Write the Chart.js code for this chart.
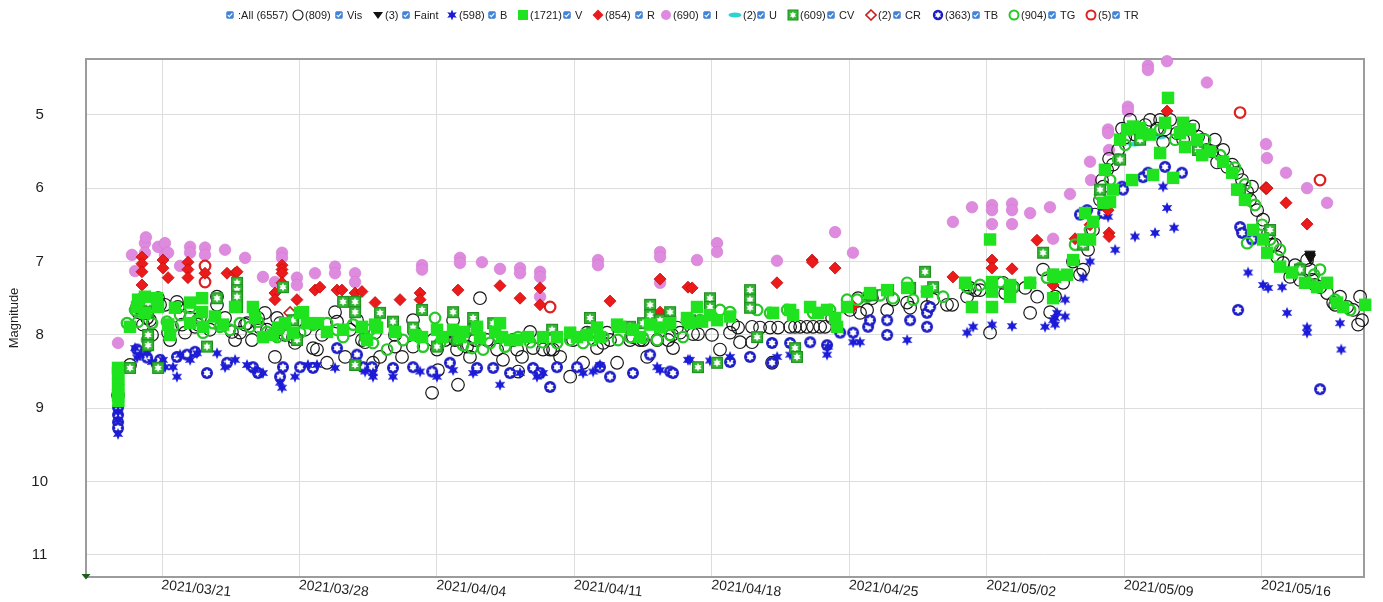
<!DOCTYPE html>
<html>
<head>
<meta charset="utf-8">
<script src="https://cdn.jsdelivr.net/npm/chart.js@4.4.1/dist/chart.umd.min.js"></script>
<style>
  html, body { margin: 0; padding: 0; background: #fff; }
  #wrap { position: relative; width: 1383px; height: 602px; overflow: hidden;
          font-family: "Liberation Sans", Arial, Helvetica, sans-serif; }
  #chart { position: absolute; left: 0; top: 0; }
  #legend { position: absolute; left: 0; top: 8px; width: 1383px; height: 14px;
            font-size: 11px; color: #222; }
  .li { position: absolute; top: 0; height: 14px; display: flex; align-items: center; white-space: nowrap; }
  .li svg { display: block; margin-right: 1px; }
</style>
</head>
<body>
<div id="wrap">
  <canvas id="chart" width="1383" height="602"></canvas>
  <div id="legend"></div>
</div>
<script>
// Dates are stored as days since 2021-03-01 00:00 UT; magnitudes as read.
const tickDays   = [20, 27, 34, 41, 48, 55, 62, 69, 76];
const tickLabels = ['2021/03/21', '2021/03/28', '2021/04/04', '2021/04/11', '2021/04/18',
                    '2021/04/25', '2021/05/02', '2021/05/09', '2021/05/16'];
const magTicks   = [5, 6, 7, 8, 9, 10, 11];

const legendNames  = ['Vis', 'Faint', 'B', 'V', 'R', 'I', 'U', 'CV', 'CR', 'TB', 'TG', 'TR'];
const legendCounts = [809, 3, 598, 1721, 854, 690, 2, 609, 2, 363, 904, 5];
const totalCount   = 6557;

const visPoints = [
  [17.76,8.82],[18.37,8.41],
  [18.73,7.62],[18.78,7.69],[19.03,7.86],[19.24,7.77],[19.39,7.80],[19.49,8.00],[19.80,7.50],[19.90,7.59],[20.15,7.59],[20.31,7.97],[20.41,8.07],[20.76,7.55],[20.81,7.62],[21.02,7.86],[21.17,7.97],[21.43,7.77],[21.68,7.89],[21.83,7.86],[21.93,7.77],[22.44,7.93],[22.80,7.48],[22.80,7.59],[23.21,7.77],[23.56,7.96],[23.72,8.07],[23.97,7.97],[24.23,7.86],[24.33,7.84],[24.58,8.07],[24.89,7.77],[24.99,7.90],[25.24,7.70],[25.35,7.93],[25.75,8.30],[25.86,7.77],[25.91,7.93],[26.01,7.84],[26.26,8.00],[26.67,8.03],[26.77,8.11],[27.28,7.93],[27.69,8.18],[27.89,8.20],[28.15,8.00],[28.40,8.38],[28.81,7.69],[28.91,7.82],[29.32,8.30],[29.57,7.93],[29.93,7.80],[30.18,8.07],[30.34,8.10],[30.74,8.38],[30.85,7.97],
  [31.10,8.30],[31.86,8.00],[31.86,8.16],[32.22,8.30],[32.78,7.80],[32.78,8.16],[32.88,7.97],[33.75,8.79],[33.80,8.07],[34.00,8.20],[34.05,8.48],[34.41,8.07],[34.82,7.80],[34.92,8.07],[35.02,8.20],[35.07,8.68],[35.53,8.16],[35.68,8.30],[35.94,8.07],[36.19,7.50],[36.55,8.07],[37.06,8.20],[37.36,8.34],[37.87,8.07],[38.08,8.20],[38.13,8.50],[38.33,8.30],[38.74,7.96],[38.89,8.18],[39.40,8.20],[39.76,8.20],[39.91,8.20],[40.27,8.30],[40.78,8.57],[40.93,8.07],[41.44,8.38],[41.64,7.97],[42.15,8.18],[42.46,8.11],[42.66,7.97],[42.81,8.07],[43.17,8.38],[43.83,8.07],[43.98,8.03],[44.34,8.07],[44.49,8.07],[44.70,8.30],[45.21,8.07],[45.77,8.07],[45.97,8.00],[46.02,8.18],[46.22,7.90],
  [46.38,7.97],[47.04,7.99],[47.29,7.99],[48.00,8.00],[48.41,8.20],[48.92,7.97],[49.08,7.86],[49.33,7.90],[49.43,8.10],[50.04,7.89],[50.04,8.10],[50.45,7.90],[50.96,7.90],[51.06,8.38],[51.37,7.90],[51.98,7.89],[52.23,7.89],[52.49,7.89],[52.84,7.89],[53.15,7.89],[53.51,7.89],[53.76,7.89],[54.12,7.77],[55.03,7.66],[55.44,7.50],[55.54,7.70],[55.90,7.66],[56.15,7.50],[56.92,7.66],[57.22,7.52],[57.94,7.56],[58.09,7.63],[58.95,7.62],[59.26,7.52],[59.97,7.59],[60.23,7.59],[60.99,7.48],[61.14,7.36],[61.40,7.39],[61.65,7.39],[62.16,7.97],[62.82,7.29],[62.93,7.43],[63.33,7.35],[63.95,7.36],[64.20,7.70],[64.56,7.48],[64.86,7.11],[65.22,7.69],[65.47,7.48],
  [65.88,7.29],[66.38,7.00],[66.74,7.18],[66.90,7.11],[67.15,6.84],[67.40,6.57],[67.50,6.36],[67.76,6.16],[67.86,5.89],[67.92,5.98],[68.12,5.75],[68.22,5.60],[68.42,5.68],[68.68,5.48],[68.88,5.19],[69.04,5.31],[69.29,5.07],[69.54,5.27],[69.70,5.20],[70.06,5.14],[70.31,5.07],[70.67,5.19],[70.82,5.07],[70.97,5.37],[71.07,5.20],[71.33,5.07],[71.68,5.25],[71.99,5.34],[72.09,5.18],[72.50,5.16],[72.75,5.30],[73.01,5.34],[73.21,5.48],[73.47,5.50],[73.61,5.34],[73.72,5.65],[74.03,5.48],[74.23,5.71],[74.49,5.68],[74.74,5.79],[74.99,5.89],[75.25,6.05],[75.40,6.16],[75.50,5.98],[75.76,6.30],[76.06,6.43],[76.32,6.61],[76.52,6.77],[76.67,6.77],[76.78,6.94],[77.08,7.02],[77.44,7.21],[77.69,7.05],[77.94,7.25],[78.30,6.98],[78.46,7.11],[78.56,7.25],[78.71,7.32],[78.97,7.35],[79.32,7.43],[79.63,7.56],[79.73,7.59],[79.98,7.48],[80.34,7.62],[80.65,7.66],[80.90,7.86],[81.00,7.48],[81.10,7.80]
];

const faintPoints = [[78.45,6.90],[78.45,6.93],[78.47,6.95]];

const bPoints = [
  [17.76,8.96],[17.76,9.05],[17.76,9.16],[17.76,9.35],
  [18.63,8.18],[18.73,8.31],[18.88,8.27],[19.24,8.25],[19.49,8.37],[20.05,8.34],[20.15,8.44],[20.56,8.44],[20.76,8.57],[20.92,8.27],[21.43,8.34],[21.78,8.25],[22.80,8.25],[23.21,8.44],[23.72,8.34],[24.33,8.41],[24.74,8.48],[25.14,8.52],[26.01,8.65],[26.11,8.72],[26.77,8.57],[27.43,8.41],[27.89,8.41],[28.81,8.45],[29.93,8.38],[30.34,8.50],[30.74,8.57],
  [30.74,8.52],[31.76,8.57],[33.14,8.50],[34.00,8.57],[34.82,8.48],[35.84,8.52],[37.21,8.68],[38.23,8.52],[39.09,8.57],[39.40,8.52],[41.44,8.52],[41.95,8.50],[42.30,8.41],[45.21,8.44],[45.36,8.48],[46.78,8.34],
  [46.88,8.34],[47.90,8.35],[48.92,8.30],[51.32,8.30],[51.98,8.27],[53.86,8.27],[53.91,8.16],[55.19,8.10],[55.54,8.10],[57.94,8.07],[60.99,7.97],[61.30,7.89],[62.26,7.86],[63.28,7.88],[64.96,7.89],[65.47,7.86],[65.47,7.77],
  [65.37,7.80],[65.57,7.70],[65.98,7.52],[65.98,7.75],[66.90,7.22],[67.25,7.00],[68.17,6.39],[68.53,6.84],[69.54,6.66],[70.56,6.61],[70.97,5.98],[71.17,6.27],[71.53,6.54],[75.30,7.15],[76.06,7.32],[76.32,7.36],[77.03,7.35],[77.28,7.70],[78.30,7.90],[78.30,7.97],[79.98,7.84],[80.04,8.20]
];

const vPoints = [
  [17.76,8.45],[17.76,8.52],[17.78,8.60],[17.76,8.68],[17.78,8.75],[17.76,8.83],[17.78,8.90],
  [18.37,7.89],[18.73,7.62],[18.78,7.52],[19.13,7.48],[19.13,7.70],[19.75,7.50],[19.80,7.62],[20.31,7.86],[20.41,8.00],[20.66,7.63],[21.43,7.56],[21.43,7.84],[22.04,7.50],[22.04,7.69],[22.09,7.89],[22.70,7.75],[23.11,7.86],[23.72,7.62],[24.63,7.62],[24.74,7.77],[25.14,8.03],[25.65,8.00],[25.91,7.90],[26.26,7.84],[26.67,7.97],[27.03,7.70],[27.18,7.69],[27.38,7.84],[27.94,7.84],[28.40,7.96],[29.22,7.93],[30.18,7.89],[30.44,8.07],[30.95,7.90],
  [30.85,7.86],[31.86,7.96],[32.88,8.00],[33.24,8.03],[34.00,7.93],[34.26,8.03],[34.82,7.93],[35.17,8.03],[35.33,7.96],[36.04,7.89],[36.19,8.04],[36.96,7.96],[37.21,7.84],[37.31,8.03],[37.72,8.07],[38.08,8.07],[38.64,8.03],[39.40,8.03],[40.11,8.03],[40.78,7.97],[41.13,8.03],[41.64,8.00],[42.15,7.90],[42.30,8.03],[43.17,7.86],[43.32,7.89],[43.98,7.93],[44.34,8.03],[44.85,7.86],[45.36,7.90],[45.87,7.84],[46.78,7.80],
  [46.73,7.77],[46.88,7.84],[47.24,7.62],[47.50,7.82],[47.90,7.73],[48.26,7.80],[48.92,7.75],[51.11,7.70],[51.98,7.66],[52.13,7.73],[53.00,7.62],[53.40,7.70],[53.86,7.66],[54.27,7.77],[54.37,7.89],[54.88,7.62],[56.05,7.43],[56.92,7.39],[57.94,7.36],[58.95,7.41],[60.89,7.29],[61.24,7.62],[62.16,6.70],[62.26,7.28],[62.26,7.41],[62.26,7.62],[63.18,7.32],[63.18,7.48],[64.20,7.29],[65.37,7.18],[65.37,7.50],
  [65.47,7.21],[66.08,7.18],[66.39,6.98],[66.90,6.70],[67.00,6.34],[67.25,6.70],[67.41,6.46],[67.92,6.20],[68.01,5.75],[68.27,6.19],[68.42,6.02],[68.78,5.34],[69.14,5.20],[69.39,5.89],[69.44,5.16],[69.80,5.18],[69.90,5.25],[70.31,5.27],[70.46,5.82],[70.82,5.52],[71.07,5.11],[71.22,4.77],[71.48,5.86],[71.83,5.25],[71.99,5.11],[72.09,5.44],[72.34,5.20],[72.70,5.34],[72.96,5.55],[73.36,5.50],[74.03,5.64],[74.49,5.79],[74.74,6.02],[75.14,6.16],[75.55,6.57],[76.06,6.70],[76.27,6.88],[76.93,7.07],[77.54,7.15],[78.20,7.29],[78.81,7.35],[79.32,7.29],[79.83,7.56],[80.14,7.62],[81.26,7.59]
];

const rPoints = [
  [18.98,6.94],[18.98,7.03],[18.98,7.14],[18.98,7.32],[18.93,7.49],[20.05,6.98],[20.05,7.09],[20.31,7.22],[21.32,7.01],[21.32,7.11],[21.32,7.22],[22.19,7.16],[23.31,7.16],[23.72,7.16],[23.82,7.14],[25.75,7.43],[25.75,7.52],[26.11,7.05],[26.11,7.11],[26.11,7.16],[26.11,7.29],[26.87,7.52],[27.79,7.39],[28.04,7.35],[28.91,7.39],[29.16,7.39],[29.83,7.43],[30.18,7.41],[30.85,7.56],
  [32.12,7.52],[33.14,7.43],[33.14,7.52],[35.07,7.39],[37.21,7.33],[38.23,7.50],[39.25,7.36],[39.25,7.59],[42.81,7.54],[45.36,7.24],[45.36,7.69],[46.78,7.35],
  [46.99,7.36],[51.31,7.29],[53.10,6.98],[53.12,7.01],[54.27,7.09],[55.18,7.61],[60.27,7.21],[62.26,6.98],[62.26,7.09],[63.28,7.10],[64.55,6.71],[65.37,7.32],
  [66.49,6.69],[67.25,6.50],[68.17,6.30],[68.22,6.61],[68.22,6.66],[71.17,4.95],[76.26,6.00],[77.23,6.20],[78.30,6.49]
];

const iPoints = [
  [17.76,8.11],[18.47,6.91],[18.63,7.13],[19.13,6.75],[19.13,6.88],[19.18,6.67],[19.80,6.80],[20.15,6.75],[20.15,6.91],[20.31,6.88],[20.92,7.06],[21.43,6.80],[21.43,6.88],[22.19,6.81],[22.19,6.91],[23.21,6.84],[24.23,6.95],[25.14,7.21],[25.75,7.28],[26.11,6.88],[26.11,6.95],[26.87,7.22],[26.87,7.32],[27.79,7.16],[28.81,7.07],[28.81,7.16],[29.83,7.16],[29.83,7.28],
  [33.24,7.05],[33.24,7.11],[35.17,6.95],[35.17,7.02],[36.29,7.01],[37.21,7.10],[38.23,7.09],[38.23,7.16],[39.25,7.14],[39.25,7.21],[39.25,7.48],[42.20,6.98],[42.20,7.05],[45.36,6.87],[45.36,6.94],[45.36,7.29],
  [47.24,6.98],[48.26,6.75],[48.26,6.87],[51.31,6.99],[54.27,6.60],[55.18,6.88],[60.27,6.46],[61.24,6.26],[62.26,6.23],[62.26,6.30],[62.26,6.49],[63.28,6.21],[63.28,6.30],[63.28,6.49],[64.20,6.34],[65.21,6.26],[65.37,6.69],
  [66.23,6.08],[67.25,5.64],[67.30,5.89],[68.17,5.20],[68.17,5.25],[68.22,5.48],[69.18,4.89],[69.18,4.95],[70.20,4.33],[70.20,4.39],[71.17,4.27],[73.20,4.56],[76.21,5.40],[76.26,5.59],[77.23,5.79],[78.30,6.00],[79.32,6.20]
];

const uPoints = [[69.50,5.40],[70.80,5.30]];

const cvPoints = [
  [18.37,8.45],[19.29,7.56],[19.29,7.69],[19.29,8.00],[19.29,8.14],[19.80,8.45],[20.31,7.86],[22.29,8.16],[22.80,7.50],[23.82,7.29],[23.82,7.39],[23.82,7.48],[23.82,7.62],[26.16,7.35],[26.67,7.80],[26.87,8.07],[29.22,7.55],[29.83,7.55],[29.83,7.69],[29.83,8.41],
  [31.10,7.70],[31.76,7.82],[32.78,7.90],[33.24,7.66],[34.00,8.16],[34.82,7.69],[35.02,8.07],[35.84,7.77],[35.84,7.93],[36.86,7.84],[37.87,8.07],[39.86,7.93],[41.79,7.77],[41.90,7.97],[43.83,7.89],[44.49,7.84],[44.85,7.59],[44.85,7.73],[45.36,7.80],[45.87,7.69],[45.87,7.82],[46.88,7.80],
  [47.90,7.50],[47.90,7.62],[47.29,8.44],[48.26,8.38],[49.94,7.39],[49.94,7.52],[49.94,7.63],[52.23,8.18],[50.30,8.03],[52.33,8.30],[56.15,7.46],[56.97,7.39],[58.09,7.36],[59.26,7.35],[58.85,7.14],[64.86,6.88],[65.37,7.18],
  [66.90,6.77],[67.76,6.02],[68.78,5.61],[69.80,5.34],[72.75,5.48],[74.89,6.02],[76.42,6.57],[77.94,7.11]
];

const crPoints = [[26.52,7.70],[76.21,6.00]];

const tbPoints = [
  [17.76,8.99],[17.76,9.09],[17.76,9.19],[17.76,9.27],
  [18.01,8.45],[18.73,8.20],[19.24,8.31],[19.90,8.34],[20.76,8.30],[21.27,8.27],[21.68,8.23],[22.29,8.52],[23.31,8.38],[24.63,8.44],[24.89,8.52],[26.01,8.57],[26.16,8.44],[27.03,8.44],[27.69,8.45],[28.91,8.18],[29.93,8.27],[30.24,8.44],
  [30.69,8.44],[31.76,8.45],[32.78,8.44],[33.75,8.50],[34.66,8.38],[36.04,8.45],[36.86,8.45],[37.72,8.52],[38.89,8.45],[39.25,8.52],[39.76,8.71],[40.11,8.44],[41.13,8.44],[42.30,8.44],[42.81,8.57],[43.98,8.52],[44.85,8.27],[45.87,8.50],[46.02,8.52],
  [48.92,8.37],[49.94,8.30],[51.06,8.11],[51.06,8.38],[51.98,8.11],[53.00,8.10],[53.86,8.14],[54.53,7.97],[55.19,7.97],[55.95,7.89],[56.05,7.80],[56.92,7.80],[56.92,8.00],[58.09,7.80],[58.95,7.70],[58.95,7.89],[59.11,7.62],
  [66.74,6.36],[67.10,6.30],[67.92,6.34],[68.88,5.98],[68.93,6.02],[69.95,5.85],[70.20,5.79],[71.07,5.71],[71.93,5.79],[74.79,7.66],[74.89,6.53],[74.99,6.61],[75.50,6.70],[78.96,8.74]
];

const tgPoints = [
  [18.22,7.84],[18.63,7.66],[18.78,7.82],[19.24,8.07],[19.49,7.84],[20.25,7.82],[20.56,7.89],[20.92,7.73],[21.43,7.63],[21.78,7.80],[22.09,7.97],[22.60,7.84],[22.95,7.89],[23.46,7.93],[23.97,7.84],[24.48,7.89],[24.89,7.82],[25.35,7.96],[25.86,8.03],[26.37,8.00],[27.03,7.97],[27.69,7.86],[28.40,7.84],[28.91,7.93],[29.22,8.03],[29.73,7.86],[30.34,8.03],[30.59,7.93],
  [30.74,8.11],[31.46,8.20],[32.27,8.07],[33.29,8.16],[33.90,7.77],[34.15,8.11],[34.82,8.03],[35.33,8.14],[35.79,8.18],[36.35,8.20],[36.70,8.11],[37.47,8.16],[38.13,8.03],[38.74,8.10],[39.40,8.10],[40.11,8.11],[40.78,8.07],[41.44,8.11],[41.95,8.07],[42.46,8.03],[43.22,8.07],[43.83,8.03],[44.49,8.04],[45.21,8.07],[45.87,8.00],[46.53,8.03],
  [46.73,7.80],[47.39,7.80],[48.41,7.66],[48.92,7.69],[50.30,7.66],[50.96,7.70],[51.83,7.66],[53.15,7.70],[54.01,7.66],[54.88,7.52],[55.39,7.52],[55.90,7.48],[56.56,7.46],[57.22,7.50],[57.94,7.29],[58.24,7.52],[58.95,7.41],[59.77,7.48],[60.99,7.35],[61.65,7.32],[62.67,7.28],[63.33,7.35],[64.20,7.29],[65.06,7.22],
  [66.49,6.77],[67.25,6.57],[67.76,6.09],[68.27,5.89],[68.68,5.61],[69.04,5.41],[69.54,5.18],[70.06,5.27],[70.82,5.20],[71.58,5.34],[72.34,5.20],[73.11,5.34],[73.87,5.55],[74.63,5.72],[75.14,5.95],[75.25,6.75],[75.65,6.23],[76.01,6.50],[76.42,6.70],[76.92,6.84],[77.94,7.09],[78.66,7.18],[78.96,7.11],[79.73,7.52],[80.49,7.66]
];

const trPoints = [[22.19,7.06],[22.19,7.28],[39.76,7.62],[74.89,4.97],[78.96,5.89]];

// ---------- marker drawing ----------
const FONT = '"Liberation Sans", Arial, Helvetica, sans-serif';

function starPath(g, cx, cy, n, ro, ri) {
  g.beginPath();
  for (let i = 0; i < 2 * n; i++) {
    const r = i % 2 ? ri : ro;
    const a = -Math.PI / 2 + i * Math.PI / n;
    g.lineTo(cx + r * Math.cos(a), cy + r * Math.sin(a));
  }
  g.closePath();
}
function markerCanvas(w, h, draw) {
  const c = document.createElement('canvas');
  c.width = w; c.height = h;
  draw(c.getContext('2d'), w / 2, h / 2);
  return c;
}
const blueStar = markerCanvas(14, 14, (g, cx, cy) => {
  starPath(g, cx, cy, 6, 6, 2.9); g.fillStyle = '#1b1bd8'; g.fill();
});
const blueRing = markerCanvas(14, 14, (g, cx, cy) => {
  g.beginPath(); g.arc(cx, cy, 6, 0, Math.PI * 2); g.fillStyle = '#1d1dc6'; g.fill();
  starPath(g, cx, cy, 6, 4.1, 2.5); g.fillStyle = '#ffffff'; g.fill();
});
const cvSquare = markerCanvas(14, 14, (g, cx, cy) => {
  g.fillStyle = '#34b834'; g.fillRect(1, 1, 12, 12);
  g.strokeStyle = '#1f8f1f'; g.lineWidth = 1.2; g.strokeRect(1.6, 1.6, 10.8, 10.8);
  starPath(g, cx, cy, 6, 4.2, 2.2); g.fillStyle = '#ffffff'; g.fill();
});
const cyanOval = markerCanvas(16, 8, (g, cx, cy) => {
  g.beginPath(); g.ellipse(cx, cy, 7, 2.6, 0, 0, Math.PI * 2); g.fillStyle = '#2bd3d3'; g.fill();
});

const pts = arr => arr.map(p => ({ x: p[0], y: p[1] }));

// first dataset is painted last (on top)
const datasets = [
  { label: 'Faint', data: pts(faintPoints), pointStyle: 'triangle', rotation: 180, pointRadius: 6,
    backgroundColor: '#111', borderColor: '#111', borderWidth: 1 },
  { label: 'V', data: pts(vPoints), pointStyle: 'rect', pointRadius: 8.8,
    backgroundColor: '#1ee31e', borderColor: '#1ee31e', borderWidth: 0 },
  { label: 'CV', data: pts(cvPoints), pointStyle: cvSquare, pointRadius: 7 },
  { label: 'TG', data: pts(tgPoints), pointStyle: 'circle', pointRadius: 5.3,
    backgroundColor: 'rgba(0,0,0,0)', borderColor: '#27c727', borderWidth: 2.2 },
  { label: 'R', data: pts(rPoints), pointStyle: 'rectRot', pointRadius: 6,
    backgroundColor: '#ec1b1b', borderColor: '#c40a0a', borderWidth: 0.8 },
  { label: 'TR', data: pts(trPoints), pointStyle: 'circle', pointRadius: 5.3,
    backgroundColor: 'rgba(255,255,255,0.9)', borderColor: '#de2020', borderWidth: 2.2 },
  { label: 'CR', data: pts(crPoints), pointStyle: 'rectRot', pointRadius: 6,
    backgroundColor: '#ffffff', borderColor: '#cc2020', borderWidth: 1.6 },
  { label: 'B', data: pts(bPoints), pointStyle: blueStar, pointRadius: 6 },
  { label: 'TB', data: pts(tbPoints), pointStyle: blueRing, pointRadius: 6 },
  { label: 'Vis', data: pts(visPoints), pointStyle: 'circle', pointRadius: 6.3,
    backgroundColor: 'rgba(0,0,0,0)', borderColor: '#161616', borderWidth: 1.2 },
  { label: 'I', data: pts(iPoints), pointStyle: 'circle', pointRadius: 5.8,
    backgroundColor: '#de8ade', borderColor: '#d07ad0', borderWidth: 0.6 },
  { label: 'U', data: pts(uPoints), pointStyle: cyanOval, pointRadius: 6 }
].map(d => Object.assign({ clip: false, pointHoverRadius: d.pointRadius }, d));

// frame, rotated date labels and the corner marker
const framePlugin = {
  id: 'frame',
  beforeDatasetsDraw(chart) {
    const { ctx, chartArea: a } = chart;
    ctx.save();
    ctx.strokeStyle = '#9c9c9c';
    ctx.lineWidth = 2;
    ctx.strokeRect(a.left, a.top, a.right - a.left, a.bottom - a.top);
    ctx.restore();
  },
  afterDraw(chart) {
    const { ctx, chartArea: a, scales: { x } } = chart;
    ctx.save();
    ctx.font = '14px ' + FONT;
    ctx.fillStyle = '#1e1e1e';
    ctx.textAlign = 'left';
    ctx.textBaseline = 'alphabetic';
    tickDays.forEach((d, i) => {
      const px = x.getPixelForValue(d);
      ctx.save();
      ctx.translate(px - 1, a.bottom + 12);
      ctx.rotate(6 * Math.PI / 180);
      ctx.fillText(tickLabels[i], 0, 0);
      ctx.restore();
    });
    ctx.fillStyle = '#1d5e1d';
    ctx.beginPath();
    ctx.moveTo(a.left - 4.5, a.bottom - 3);
    ctx.lineTo(a.left + 4.5, a.bottom - 3);
    ctx.lineTo(a.left, a.bottom + 2.5);
    ctx.closePath();
    ctx.fill();
    ctx.restore();
  }
};

new Chart(document.getElementById('chart'), {
  type: 'scatter',
  data: { datasets },
  options: {
    responsive: false,
    animation: false,
    events: [],
    layout: { padding: { top: 59, right: 19, left: 0, bottom: 0 } },
    plugins: { legend: { display: false }, tooltip: { enabled: false } },
    scales: {
      x: {
        type: 'linear', min: 16.13, max: 81.2,
        afterBuildTicks: s => { s.ticks = tickDays.map(v => ({ value: v })); },
        afterFit: s => { s.height = 25; s.paddingLeft = 0; s.paddingRight = 0; },
        ticks: { display: false },
        grid: { color: '#dddddd', lineWidth: 1, drawTicks: false },
        border: { display: false }
      },
      y: {
        type: 'linear', reverse: true, min: 4.24, max: 11.3,
        afterBuildTicks: s => { s.ticks = magTicks.map(v => ({ value: v })); },
        afterFit: s => { s.width = 86; s.paddingTop = 0; s.paddingBottom = 0; },
        ticks: { font: { size: 15, family: FONT }, color: '#1e1e1e', padding: 38, crossAlign: 'center' },
        grid: { color: '#dddddd', lineWidth: 1, drawTicks: false },
        border: { display: false },
        title: { display: true, text: 'Magnitude', font: { size: 13, family: FONT }, color: '#1e1e1e',
                 padding: { top: 7, bottom: 0 } }
      }
    }
  },
  plugins: [framePlugin]
});

// ---------- legend row ----------
function svg(w, h, inner) {
  return `<svg width="${w}" height="${h}" viewBox="0 0 ${w} ${h}">${inner}</svg>`;
}
function starPts(cx, cy, n, ro, ri) {
  const p = [];
  for (let i = 0; i < 2 * n; i++) {
    const r = i % 2 ? ri : ro, a = -Math.PI / 2 + i * Math.PI / n;
    p.push((cx + r * Math.cos(a)).toFixed(2) + ',' + (cy + r * Math.sin(a)).toFixed(2));
  }
  return p.join(' ');
}
const checkBox = svg(8, 8,
  '<rect x="0.5" y="0.5" width="7" height="7" rx="1.5" fill="#3f82d8" stroke="#6d9fe0"/>' +
  '<path d="M1.8 4.1 L3.3 5.6 L6.3 2.4" stroke="#fff" stroke-width="1.2" fill="none"/>');
const legendSymbols = {
  Vis: svg(12, 12, '<circle cx="6" cy="6" r="5" fill="none" stroke="#111" stroke-width="1.1"/>'),
  Faint: svg(12, 12, '<polygon points="1,3 11,3 6,10" fill="#111"/>'),
  B: svg(12, 12, `<polygon points="${starPts(6, 6, 6, 5.5, 2.6)}" fill="#1b1bd8"/>`),
  V: svg(12, 12, '<rect x="1" y="1" width="10" height="10" fill="#1ee31e"/>'),
  R: svg(12, 12, '<polygon points="6,0.5 11.5,6 6,11.5 0.5,6" fill="#ec1b1b"/>'),
  I: svg(12, 12, '<circle cx="6" cy="6" r="5" fill="#de8ade"/>'),
  U: svg(14, 12, '<ellipse cx="7" cy="6" rx="6.5" ry="2.4" fill="#2bd3d3"/>'),
  CV: svg(12, 12, '<rect x="1" y="1" width="10" height="10" fill="#34b834" stroke="#1f8f1f"/>' +
                   `<polygon points="${starPts(6, 6, 6, 3.6, 1.9)}" fill="#fff"/>`),
  CR: svg(12, 12, '<polygon points="6,1 11,6 6,11 1,6" fill="#fff" stroke="#cc2020" stroke-width="1.6"/>'),
  TB: svg(12, 12, '<circle cx="6" cy="6" r="5.2" fill="#1d1dc6"/>' +
                   `<polygon points="${starPts(6, 6, 6, 3.5, 2.1)}" fill="#fff"/>`),
  TG: svg(12, 12, '<circle cx="6" cy="6" r="4.5" fill="none" stroke="#27c727" stroke-width="2"/>'),
  TR: svg(12, 12, '<circle cx="6" cy="6" r="4.5" fill="none" stroke="#de2020" stroke-width="2"/>')
};
const legendSymX = [292, 372, 446, 517, 592, 660, 728, 787, 865, 932, 1008, 1085];
const legendBoxX = [335, 402, 488, 563, 635, 703, 757, 827, 893, 972, 1048, 1112];

const legend = document.getElementById('legend');
function addItem(left, html) {
  const s = document.createElement('span');
  s.className = 'li';
  s.style.left = left + 'px';
  s.innerHTML = html;
  legend.appendChild(s);
}
addItem(226, checkBox + `<span>&nbsp;:All (${totalCount})</span>`);
legendNames.forEach((name, i) => {
  addItem(legendSymX[i], legendSymbols[name] + `<span>(${legendCounts[i]})</span>`);
  addItem(legendBoxX[i], checkBox + `<span>&nbsp;${name}</span>`);
});
</script>
</body>
</html>
